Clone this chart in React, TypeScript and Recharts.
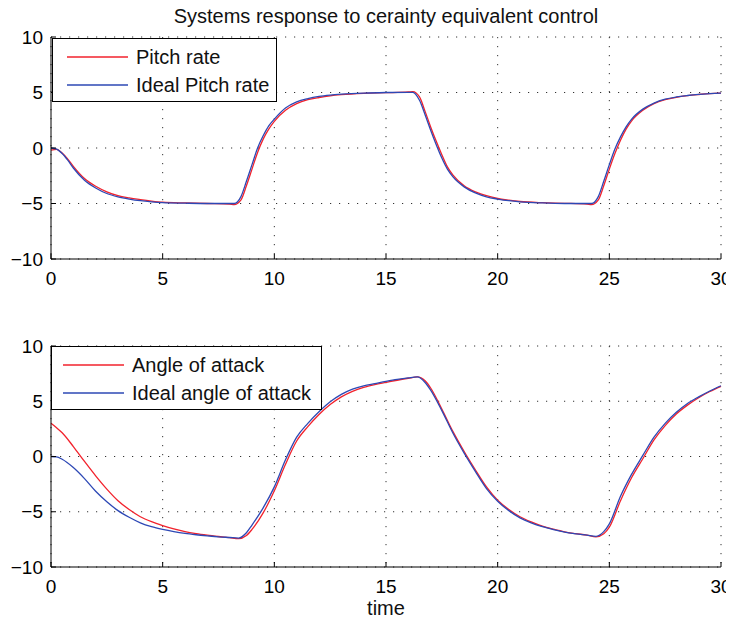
import { LineChart, Line, XAxis, YAxis, CartesianGrid, Legend } from 'recharts';

// time samples (s) for the pitch-rate panel
const tTop = [
  0, 0.25, 0.5, 0.75, 1, 1.5, 2, 2.5, 3, 3.5, 4, 4.5, 5, 6, 7, 8,
  8.2, 8.5, 8.75, 9, 9.25, 9.5, 9.75, 10, 10.5, 11, 11.5, 12, 12.5, 13, 14, 15, 16,
  16.2, 16.5, 16.75, 17, 17.25, 17.5, 17.75, 18, 18.5, 19, 19.5, 20, 20.5, 21, 22, 23, 24,
  24.2, 24.5, 24.75, 25, 25.25, 25.5, 25.75, 26, 26.5, 27, 27.5, 28, 28.5, 29, 29.5, 30,
];
const pitchRate = [
  -0.2, -0.12, -0.45, -1.0, -1.65, -2.75, -3.45, -3.95, -4.3, -4.5, -4.65, -4.78, -4.88, -4.95, -5.0, -5.05,
  -5.1, -4.7, -3.4, -1.9, -0.4, 0.8, 1.7, 2.4, 3.4, 4.0, 4.35, 4.55, 4.7, 4.8, 4.92, 4.98, 5.05,
  5.08, 4.6, 3.3, 1.9, 0.6, -0.6, -1.7, -2.45, -3.4, -3.95, -4.3, -4.55, -4.7, -4.82, -4.93, -4.98, -5.05,
  -5.1, -4.7, -3.4, -1.9, -0.5, 0.7, 1.7, 2.45, 3.4, 4.0, 4.35, 4.57, 4.72, 4.82, 4.9, 4.95,
];
const idealPitchRate = [
  0, -0.1, -0.5, -1.1, -1.8, -2.9, -3.6, -4.1, -4.4, -4.6, -4.75, -4.85, -4.92, -4.97, -5.0, -5.0,
  -5.0, -4.4, -3.0, -1.5, 0.0, 1.1, 2.0, 2.6, 3.6, 4.15, 4.45, 4.65, 4.77, 4.85, 4.95, 5.0, 5.02,
  5.02, 4.3, 3.0, 1.6, 0.3, -0.9, -1.9, -2.6, -3.5, -4.05, -4.4, -4.6, -4.75, -4.85, -4.95, -5.0, -5.0,
  -5.0, -4.4, -3.0, -1.5, -0.1, 1.0, 1.9, 2.6, 3.5, 4.05, 4.4, 4.6, 4.73, 4.83, 4.9, 4.95,
];

// time samples (s) for the angle-of-attack panel
const tBottom = [
  0, 0.25, 0.5, 1, 1.5, 2, 2.5, 3, 3.5, 4, 4.5, 5, 5.5, 6, 6.5, 7, 7.5, 8,
  8.4, 8.75, 9, 9.5, 10, 10.5, 11, 11.5, 12, 12.5, 13, 13.5, 14, 14.5, 15, 15.5, 16,
  16.4, 16.75, 17, 17.5, 18, 18.5, 19, 19.5, 20, 20.5, 21, 21.5, 22, 22.5, 23, 23.5, 24,
  24.4, 24.75, 25, 25.5, 26, 26.5, 27, 27.5, 28, 28.5, 29, 29.5, 30,
];
const angleOfAttack = [
  3.0, 2.6, 2.15, 0.9, -0.45, -1.75, -2.95, -4.0, -4.8, -5.45, -5.9, -6.25, -6.55, -6.8, -6.98, -7.12, -7.24, -7.35,
  -7.44, -7.15, -6.6, -5.1, -3.1, -0.7, 1.4, 2.7, 3.8, 4.7, 5.4, 5.9, 6.25, 6.5, 6.7, 6.9, 7.08,
  7.2, 6.85, 6.2, 4.3, 2.25, 0.45, -1.2, -2.75, -3.95, -4.8, -5.45, -5.92, -6.3, -6.58, -6.82, -6.98, -7.12,
  -7.28, -7.0, -6.4, -4.0, -1.9, -0.2, 1.5, 2.8, 3.85, 4.65, 5.32, 5.88, 6.35,
];
const idealAngleOfAttack = [
  0, -0.03, -0.25, -1.0, -2.0, -3.15, -4.1, -4.9, -5.5, -6.0, -6.35, -6.6, -6.8, -6.96, -7.08, -7.18, -7.27, -7.33,
  -7.38, -6.9, -6.2, -4.65, -2.75, -0.3, 1.75, 3.0, 4.05, 4.95, 5.62, 6.1, 6.4, 6.6, 6.8, 6.98, 7.12,
  7.2, 6.7, 6.0, 4.15, 2.1, 0.3, -1.35, -2.9, -4.05, -4.9, -5.55, -6.0, -6.35, -6.62, -6.85, -7.0, -7.12,
  -7.22, -6.8, -6.1, -3.6, -1.6, 0.1, 1.75, 3.0, 4.0, 4.8, 5.4, 5.93, 6.4,
];

const xTicks = [0, 5, 10, 15, 20, 25, 30];
const yTicks = [-10, -5, 0, 5, 10];

const pitchData = tTop.map((t, i) => ({ t, actual: pitchRate[i], ideal: idealPitchRate[i] }));
const angleData = tBottom.map((t, i) => ({ t, actual: angleOfAttack[i], ideal: idealAngleOfAttack[i] }));

const FONT = '"Liberation Sans", Arial, Helvetica, sans-serif';
const RED = '#f2222c';
const BLUE = '#2d48b5';

const fmtY = (v: number) => (v < 0 ? `\u2212${-v}` : `${v}`);
const blank = () => '';

// MATLAB-style boxed legend; keeps the series order (red first) instead of recharts' alphabetical sort
function BoxLegend({ payload, names, width, lineLeft }: any) {
  const items = [...(payload || [])].sort((a: any, b: any) => names.indexOf(a.value) - names.indexOf(b.value));
  return (
    <div
      style={{
        width,
        height: 64,
        boxSizing: 'border-box',
        border: '1px solid #000',
        background: '#fff',
        paddingTop: 4,
        fontFamily: FONT,
        fontSize: 20,
        color: '#111',
      }}
    >
      {items.map((p: any) => (
        <div key={p.value} style={{ display: 'flex', alignItems: 'center', height: 28 }}>
          <svg width={lineLeft + 62} height={4} style={{ flex: 'none' }}>
            <line x1={lineLeft} x2={lineLeft + 61} y1={2} y2={2} stroke={p.color} strokeWidth={1.3} />
          </svg>
          <span style={{ marginLeft: 7, whiteSpace: 'nowrap' }}>{p.value}</span>
        </div>
      ))}
    </div>
  );
}

function Panel({ data, height, margin, names, legendPos, legendWidth, lineLeft }: any) {
  const tick = { fill: '#000', fontSize: 19, fontFamily: FONT };
  return (
    <LineChart width={734} height={height} data={data} margin={margin}>
      <CartesianGrid stroke="#333" strokeDasharray="1.2 7.8" />
      <XAxis
        dataKey="t"
        type="number"
        domain={[0, 30]}
        ticks={xTicks}
        interval={0}
        height={30}
        tickSize={-5}
        tickMargin={18}
        axisLine={{ stroke: '#000' }}
        tickLine={{ stroke: '#000' }}
        tick={tick}
      />
      <XAxis
        xAxisId="top"
        orientation="top"
        dataKey="t"
        type="number"
        domain={[0, 30]}
        ticks={xTicks}
        interval={0}
        height={0}
        tickSize={-5}
        tickFormatter={blank}
        axisLine={{ stroke: '#000' }}
        tickLine={{ stroke: '#000' }}
      />
      <YAxis
        type="number"
        domain={[-10, 10]}
        ticks={yTicks}
        interval={0}
        width={45}
        tickSize={-5}
        tickMargin={13}
        tickFormatter={fmtY}
        axisLine={{ stroke: '#000' }}
        tickLine={{ stroke: '#000' }}
        tick={tick}
      />
      <YAxis
        yAxisId="right"
        orientation="right"
        type="number"
        domain={[-10, 10]}
        ticks={yTicks}
        interval={0}
        width={0}
        tickSize={-5}
        tickFormatter={blank}
        axisLine={{ stroke: '#000' }}
        tickLine={{ stroke: '#000' }}
      />
      <Legend
        layout="horizontal"
        verticalAlign="middle"
        align="center"
        wrapperStyle={{ left: legendPos.left, top: legendPos.top, width: legendWidth, height: 64 }}
        content={(props: any) => (
          <BoxLegend payload={props.payload} names={names} width={legendWidth} lineLeft={lineLeft} />
        )}
      />
      <Line
        type="monotone"
        dataKey="actual"
        name={names[0]}
        stroke={RED}
        strokeWidth={1.3}
        dot={false}
        isAnimationActive={false}
      />
      <Line
        type="monotone"
        dataKey="ideal"
        name={names[1]}
        stroke={BLUE}
        strokeWidth={1.3}
        dot={false}
        isAnimationActive={false}
      />
    </LineChart>
  );
}

export default function App() {
  return (
    <div
      style={{
        position: 'relative',
        width: 734,
        height: 623,
        margin: '-8px 0 0 -8px',
        background: '#fff',
        fontFamily: FONT,
        overflow: 'hidden',
      }}
    >
      <div
        style={{
          position: 'absolute',
          top: 6,
          left: 51,
          width: 670,
          textAlign: 'center',
          fontSize: 20,
          lineHeight: '20px',
          color: '#111',
          whiteSpace: 'nowrap',
        }}
      >
        Systems response to cerainty equivalent control
      </div>
      <div style={{ position: 'absolute', top: 0, left: 0 }}>
        <Panel
          data={pitchData}
          height={300}
          margin={{ top: 37, right: 13, bottom: 11, left: 6 }}
          names={['Pitch rate', 'Ideal Pitch rate']}
          legendPos={{ left: 52, top: 38 }}
          legendWidth={225}
          lineLeft={14}
        />
      </div>
      <div style={{ position: 'absolute', top: 300, left: 0 }}>
        <Panel
          data={angleData}
          height={323}
          margin={{ top: 46, right: 13, bottom: 26, left: 6 }}
          names={['Angle of attack', 'Ideal angle of attack']}
          legendPos={{ left: 51, top: 46 }}
          legendWidth={271}
          lineLeft={11}
        />
      </div>
      <div
        style={{
          position: 'absolute',
          top: 600,
          left: 51,
          width: 670,
          textAlign: 'center',
          fontSize: 20,
          lineHeight: '16px',
          color: '#111',
        }}
      >
        time
      </div>
    </div>
  );
}
